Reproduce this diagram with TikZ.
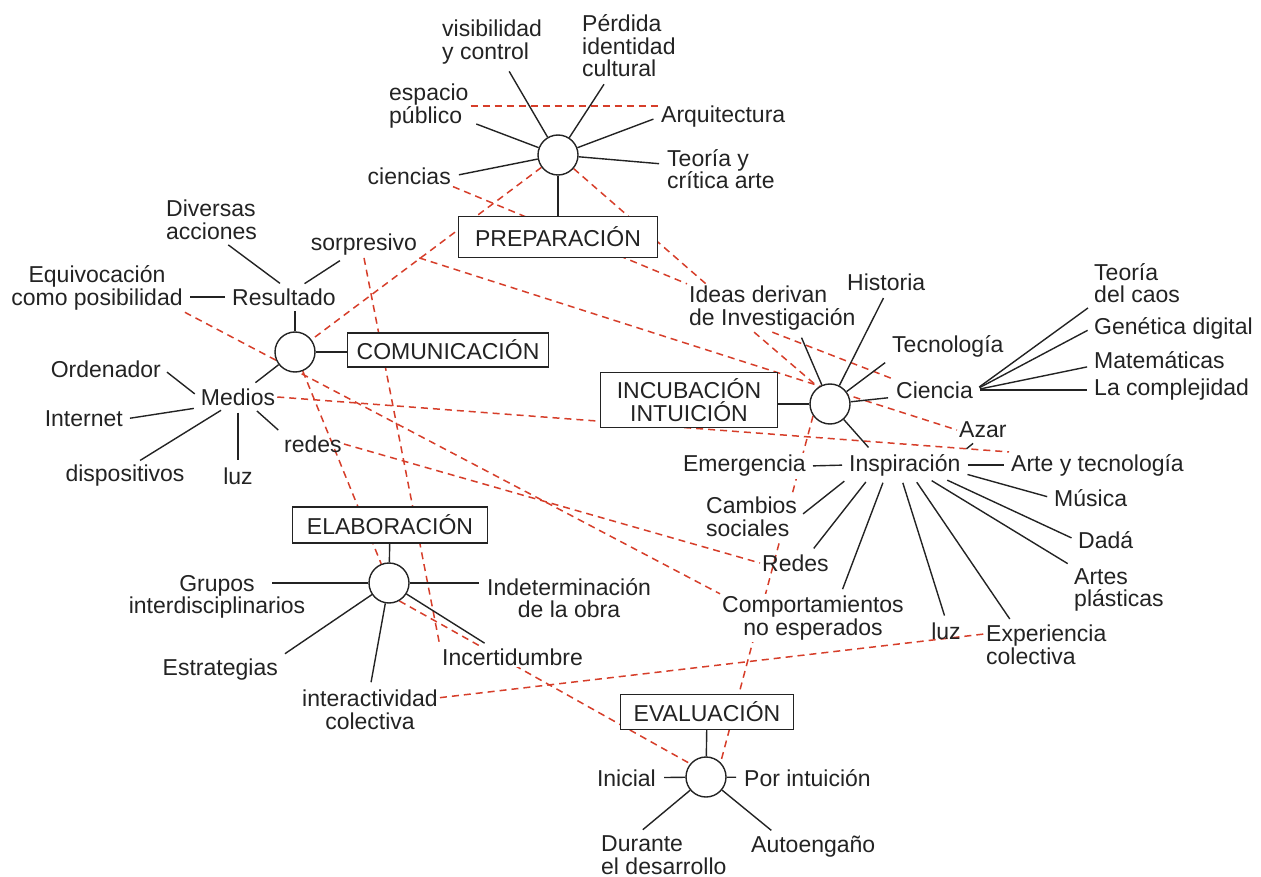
\documentclass[tikz,border=0pt]{standalone}
\usepackage{fontspec}
\setmainfont{Liberation Sans}
\usetikzlibrary{backgrounds}
\definecolor{linkred}{RGB}{214,62,42}
\definecolor{inkgray}{RGB}{35,35,35}
\newcommand\lblfont{\fontsize{23pt}{22.5pt}\selectfont}
\tikzset{
  hub/.style={circle,draw=inkgray,line width=1.4pt,fill=white,minimum size=40pt,inner sep=0pt},
  phase/.style={draw=inkgray,line width=1.3pt,fill=white,inner sep=0pt,align=center,font=\lblfont,text=inkgray},
  lbl/.style={inner sep=2pt,align=center,font=\lblfont,text=inkgray},
  lbll/.style={lbl,align=left},
  masked/.style={fill=white},
  spoke/.style={draw=inkgray,line width=1.4pt,shorten >=6pt},
  spoke2/.style={draw=inkgray,line width=1.4pt,shorten >=5pt,shorten <=5pt},
  stem/.style={draw=inkgray,line width=1.4pt},
  link/.style={draw=linkred,line width=1.5pt,dash pattern=on 7pt off 5pt}
}
\begin{document}
\begin{tikzpicture}[x=1pt,y=-1pt]
\useasboundingbox (0,0) rectangle (1261,877);

\node[hub] (prepc) at (558,155) {};
\node[phase,minimum width=199pt,minimum height=41pt] (prep) at (558,237) {PREPARACIÓN};
\node[lbll,anchor=west] (vis) at (440,42) {visibilidad\\y control};
\node[lbll,anchor=west] (perd) at (580,46) {Pérdida\\identidad\\cultural};
\node[lbll,anchor=west] (esp) at (387,106) {espacio\\público};
\node[lbl,anchor=west] (arq) at (659,117) {Arquitectura};
\node[lbll,anchor=west] (teo) at (665,169) {Teoría y\\crítica arte};
\node[lbl,anchor=east] (cien) at (453,176) {ciencias};

\node[hub] (comc) at (295,352) {};
\node[phase,minimum width=201pt,minimum height=34pt] (com) at (448,350) {COMUNICACIÓN};
\node[lbl] (res) at (284,297) {Resultado};
\node[lbll,anchor=west] (div) at (164,220) {Diversas\\acciones};
\node[lbl] (sor) at (364,245) {sorpresivo};
\node[lbl] (equ) at (97,288) {Equivocación\\como posibilidad};
\node[lbl] (med) at (238,397) {Medios};
\node[lbl,anchor=east] (ord) at (163,369) {Ordenador};
\node[lbl,anchor=east] (int) at (125,419) {Internet};
\node[lbl] (dis) at (125,476) {dispositivos};
\node[lbl] (luzm) at (238,476) {luz};
\node[lbl,anchor=west] (red) at (282,444) {redes};

\node[phase,minimum width=195pt,minimum height=36pt] (elab) at (390,525) {ELABORACIÓN};
\node[hub] (elabc) at (389,583) {};
\node[lbl] (gru) at (217,597) {Grupos\\interdisciplinarios};
\node[lbl,anchor=west] (ind) at (485,598) {Indeterminación\\de la obra};
\node[lbl,anchor=east] (est) at (280,670) {Estrategias};
\node[lbl] (inter) at (370,710) {interactividad\\colectiva};
\node[lbl,masked,anchor=west] (incert) at (440,657) {Incertidumbre};

\node[phase,minimum width=177pt,minimum height=55pt] (incub) at (689,400) {INCUBACIÓN\\INTUICIÓN};
\node[hub] (incc) at (830,404) {};
\node[lbll,anchor=west] (ideas) at (687,308) {Ideas derivan\\de Investigación};
\node[lbl,anchor=west] (his) at (845,282) {Historia};
\node[lbl,anchor=west] (tec) at (890,346) {Tecnología};
\node[lbl,anchor=west] (cie) at (894,390) {Ciencia};
\node[lbl,anchor=west] (azar) at (957,430) {Azar};
\node[lbl,anchor=west] (insp) at (847,465) {Inspiración};
\node[lbl,masked,anchor=east] (eme) at (808,466) {Emergencia};
\node[lbl,anchor=west] (ayt) at (1009,465) {Arte y tecnología};
\node[lbll,anchor=west] (caos) at (1092,283) {Teoría\\del caos};
\node[lbl,anchor=west] (gen) at (1092,328) {Genética digital};
\node[lbl,anchor=west] (mat) at (1092,360) {Matemáticas};
\node[lbl,anchor=west] (comp) at (1092,390) {La complejidad};
\node[lbl,anchor=west] (mus) at (1052,498) {Música};
\node[lbl,anchor=west] (dada) at (1076,540) {Dadá};
\node[lbll,anchor=west] (artes) at (1072,590) {Artes\\plásticas};
\node[lbll,anchor=west] (expc) at (984,645) {Experiencia\\colectiva};
\node[lbl] (luzi) at (946,631) {luz};
\node[lbl,masked] (cnoe) at (813,618) {Comportamientos\\no esperados};
\node[lbl,anchor=west] (redi) at (760,563) {Redes};
\node[lbll,masked,anchor=west] (cam) at (704,517) {Cambios\\sociales};

\node[phase,minimum width=173pt,minimum height=35pt] (eval) at (707,712) {EVALUACIÓN};
\node[hub] (evalc) at (706,777) {};
\node[lbl,anchor=east] (ini) at (658,778) {Inicial};
\node[lbl,anchor=west] (por) at (742,778) {Por intuición};
\node[lbll,anchor=west] (dur) at (599,855) {Durante\\el desarrollo};
\node[lbl,anchor=west] (auto) at (749,847) {Autoengaño};

\draw[stem] (prepc) -- (prep);
\draw[spoke] (prepc) -- (vis);
\draw[spoke] (prepc) -- (perd);
\draw[spoke] (prepc) -- (esp);
\draw[spoke] (prepc) -- (arq.west);
\draw[spoke] (prepc) -- (teo);
\draw[spoke] (prepc) -- (cien.east);

\draw[stem] (comc) -- (comc -| com.west);
\draw[spoke,shorten >=3pt] (comc) -- (comc |- res.south);
\draw[spoke] (comc) -- (med.40);
\draw[spoke2] (res.north) -- (div.-60);
\draw[spoke2] (res) -- (sor);
\draw[spoke2] (res.west) -- (res.west -| equ.east);
\draw[spoke2] (med.west) -- (ord.east);
\draw[spoke2] (med.south west) -- (int.east);
\draw[spoke2] (med.-140) -- (dis.50);
\draw[spoke2] (med.south) -- (luzm.north);
\draw[spoke2] (med.-35) -- (red.north west);

\draw[stem] (elab) -- (elabc);
\draw[spoke,shorten >=0pt] (elabc) -- ([xshift=-35pt]gru.east |- elabc);
\draw[spoke] (elabc) -- (elabc -| ind.west);
\draw[spoke] (elabc) -- (est.north east);
\draw[spoke] (elabc) -- (inter.north);
\draw[spoke] (elabc) -- (incert.155);

\draw[stem] (incc) -- (incc -| incub.east);
\draw[spoke] (incc) -- (his.south);
\draw[spoke] (incc) -- (tec.south west);
\draw[spoke] (incc) -- (cie.190);
\draw[spoke] (incc) -- (ideas.-42);
\draw[spoke] (incc) -- (insp.158);
\draw[spoke2] (azar.-120) -- (insp.north east);
\draw[spoke2] (insp.west) -- (eme.east);
\draw[spoke2] (insp.east) -- (ayt.west);
\draw[spoke2] (cie.east) -- (caos.south west);
\draw[spoke2] (cie.east) -- (gen.west);
\draw[spoke2] (cie.east) -- (mat.185);
\draw[spoke2] (cie.east) -- (comp.west);
\draw[spoke2] (insp.-167) -- (cam.east);
\draw[spoke2] (insp.-160) -- (redi.35);
\draw[spoke2] (insp.-147) -- (cnoe.41);
\draw[spoke2] (insp.-105) -- (luzi.north);
\draw[spoke2] (insp.-55) -- (expc.147);
\draw[spoke2] (insp.-30) -- (artes.north west);
\draw[spoke2] (insp.-19) -- (dada.west);
\draw[spoke2] (insp.-8) -- (mus.west);

\draw[stem] (eval) -- (evalc);
\draw[spoke] (evalc) -- (ini);
\draw[spoke] (evalc) -- (por);
\draw[spoke] (evalc) -- (dur.140);
\draw[spoke] (evalc) -- (auto.161);

\begin{scope}[on background layer]
\draw[link] (esp.east) -- (esp.east -| arq.west);
\draw[link] (cien.south east) -- (ideas.north west);
\draw[link] (prepc) -- (comc);
\draw[link] (prepc) -- (ideas.160);
\draw[link] (sor.south east) -- (azar.west);
\draw[link] (sor.south) -- (incert.north west);
\draw[link] (equ.south east) -- (cnoe.north west);
\draw[link] (comc) -- (elabc);
\draw[link] (med.east) -- (ayt.north west);
\draw[link] (red.east) -- (redi.west);
\draw[link] (ideas.-127) -- (incc.125);
\draw[link] (ideas.south) -- (cie.north west);
\draw[link] (incc.215) -- (evalc.45);
\draw[link] (elabc.-60) -- (evalc.140);
\draw[link] (inter.10) -- (expc.170);
\end{scope}
\end{tikzpicture}
\end{document}
